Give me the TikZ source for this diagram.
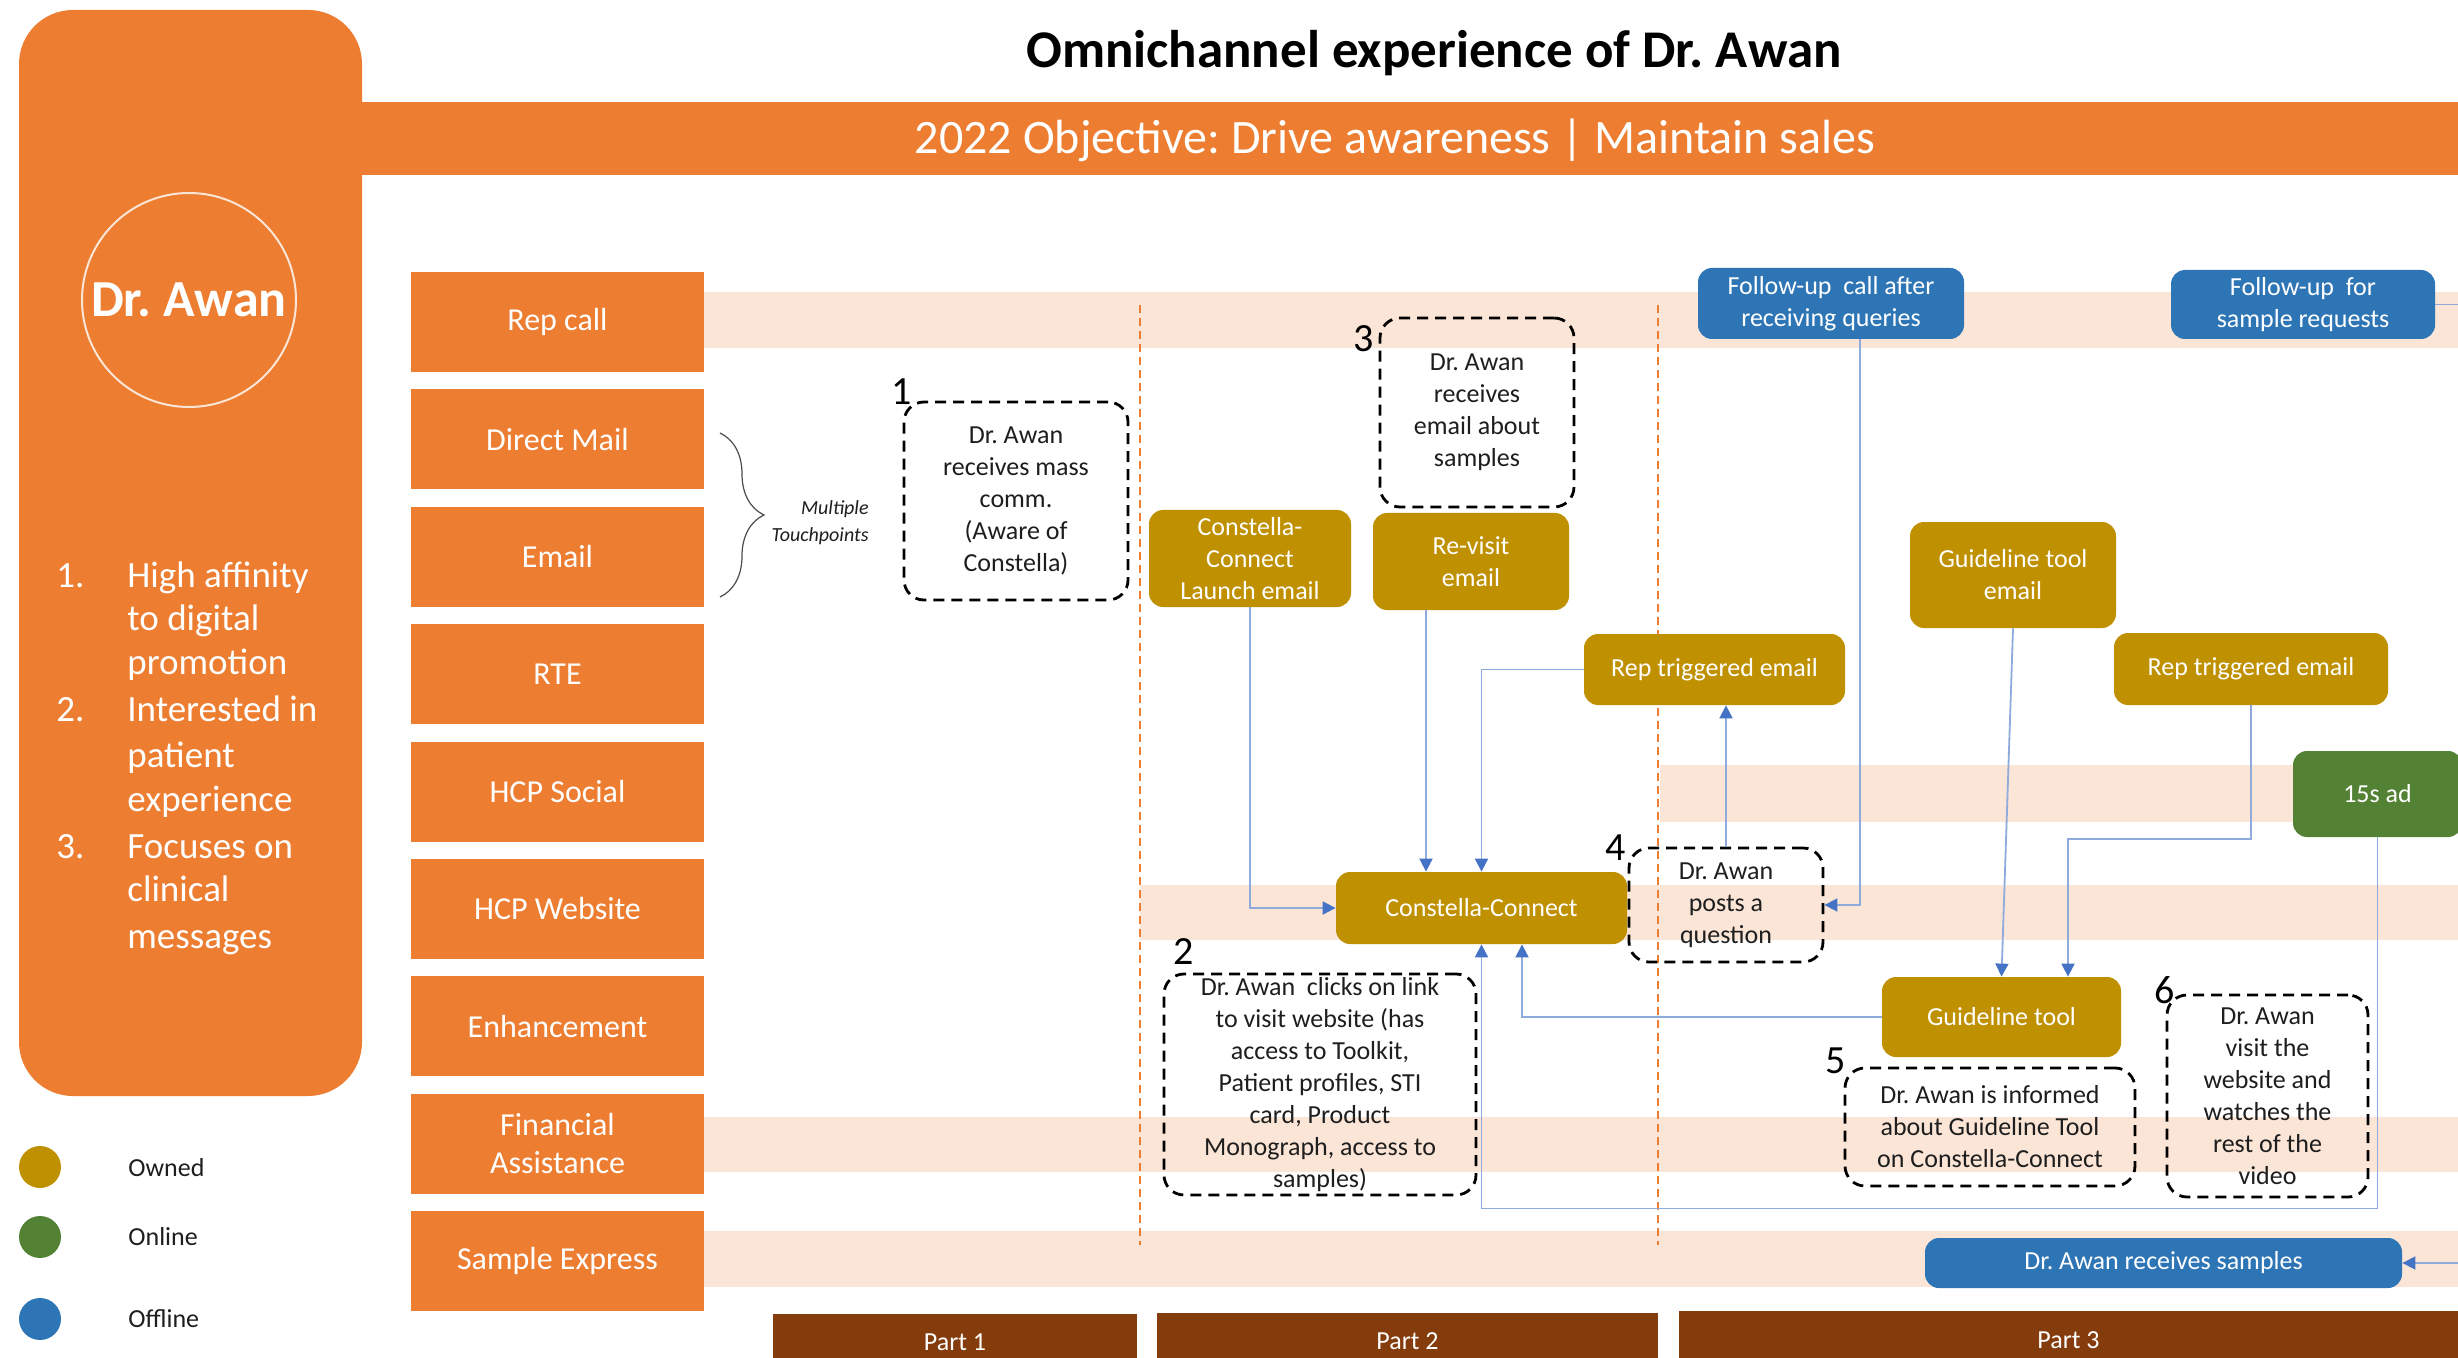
\documentclass[tikz,border=0pt]{standalone}
\usepackage{fontspec}
\setmainfont{Carlito}
\usetikzlibrary{arrows.meta,calc,decorations.pathreplacing}
\definecolor{orng}{RGB}{237,125,49}
\definecolor{band}{RGB}{251,229,214}
\definecolor{gold}{RGB}{191,144,0}
\definecolor{grn}{RGB}{84,130,53}
\definecolor{blu}{RGB}{46,117,182}
\definecolor{brn}{RGB}{132,60,12}
\definecolor{connc}{RGB}{143,170,220}
\definecolor{arrc}{RGB}{68,114,196}
\definecolor{txtgray}{RGB}{30,30,30}
\frenchspacing
\begin{document}
\begin{tikzpicture}[x=0.5pt,y=-0.5pt,
  rowbox/.style={fill=orng, text=white, minimum width=146.5pt, minimum height=50pt, inner sep=0pt, align=center, font=\fontsize{16}{19}\selectfont},
  flowbox/.style={rounded corners=7pt, inner sep=0pt, align=center, text=white, font=\fontsize{13}{16}\selectfont},
  goldbox/.style={flowbox, fill=gold},
  bluebox/.style={flowbox, fill=blu},
  greenbox/.style={flowbox, fill=grn},
  note/.style={draw=black, line width=1.4pt, dash pattern=on 5.5pt off 3.5pt, rounded corners=10pt, inner sep=0pt, align=center, text=txtgray, font=\fontsize{13}{16}\selectfont},
  num/.style={anchor=base, inner sep=0pt, text=black, font=\fontsize{20}{20}\selectfont},
  conn/.style={draw=connc, line width=0.9pt, -{Triangle[length=6.5pt,width=6.5pt,color=arrc]}},
  divider/.style={draw=orng, line width=0.7pt, dash pattern=on 4pt off 2.5pt},
  partbar/.style={fill=brn, text=white, inner sep=0pt, font=\fontsize{13}{16}\selectfont},
  listtxt/.style={anchor=base west, inner sep=0pt, text=white, font=\fontsize{18.5}{22}\selectfont},
  legtxt/.style={anchor=west, inner sep=0pt, text=txtgray, font=\fontsize{13}{16}\selectfont},
  legdot/.style={circle, minimum size=21pt, inner sep=0pt},
]
\useasboundingbox (0,0) rectangle (2458,1358);
\clip (0,0) rectangle (2458,1358);
\fill[white] (0,0) rectangle (2458,1358);

% left panel and header
\fill[orng, rounded corners=27pt] (19,10) rectangle (362,1096);
\fill[orng] (362,102) rectangle (2458,175);
\node[font=\bfseries\fontsize{26.5}{30}\selectfont, text=black] (title) at (1434,53) {Omnichannel experience of Dr. Awan};
\node[font=\fontsize{24}{28}\selectfont, text=white] (objective) at (1395,140) {2022 Objective: Drive awareness | Maintain sales};

\node[circle, draw=band, line width=1pt, minimum size=107pt, inner sep=0pt, text=white, font=\bfseries\fontsize{26}{30}\selectfont] (persona) at (189,300) {Dr. Awan};

\node[listtxt] (n1) at (56,587) {1.};
\node[listtxt] (n2) at (56,721) {2.};
\node[listtxt] (n3) at (56,858) {3.};
\node[listtxt] (t1) at (127,587) {High affinity};
\node[listtxt] (t2) at (127,630) {to digital};
\node[listtxt] (t3) at (127,674) {promotion};
\node[listtxt] (t4) at (127,721) {Interested in};
\node[listtxt] (t5) at (127,767) {patient};
\node[listtxt] (t6) at (127,811) {experience};
\node[listtxt] (t7) at (127,858) {Focuses on};
\node[listtxt] (t8) at (127,901) {clinical};
\node[listtxt] (t9) at (127,948) {messages};

% legend
\node[legdot, fill=gold] (lg1) at (40,1167) {};
\node[legdot, fill=grn] (lg2) at (40,1237) {};
\node[legdot, fill=blu] (lg3) at (40,1319) {};
\node[legtxt] (lt1) at (128,1168) {Owned};
\node[legtxt] (lt2) at (128,1237) {Online};
\node[legtxt] (lt3) at (128,1319) {Offline};

% swim-lane bands
\fill[band] (704,292) rectangle (2458,348);
\fill[band] (1660,765) rectangle (2458,822);
\fill[band] (1140,885) rectangle (2458,940);
\fill[band] (704,1117) rectangle (2458,1172);
\fill[band] (704,1231) rectangle (2458,1287);

% row labels
\node[rowbox] (r1) at (557.5,322) {Rep call};
\node[rowbox] (r2) at (557.5,439.4) {Direct Mail};
\node[rowbox] (r3) at (557.5,556.8) {Email};
\node[rowbox] (r4) at (557.5,674.2) {RTE};
\node[rowbox] (r5) at (557.5,791.6) {HCP Social};
\node[rowbox] (r6) at (557.5,909) {HCP Website};
\node[rowbox] (r7) at (557.5,1026.4) {Enhancement};
\node[rowbox] (r8) at (557.5,1143.8) {Financial\\Assistance};
\node[rowbox] (r9) at (557.5,1261.2) {Sample Express};

% brace
\draw[draw=black!70, line width=0.6pt, decorate, decoration={brace, amplitude=22pt}] (720,433) -- (720,597);
\node[anchor=east, align=right, inner sep=0pt, text=txtgray, font=\itshape\fontsize{10}{13.5}\selectfont] (mt) at (869,523) {Multiple\\Touchpoints};

% part dividers
\draw[divider] (1140,305) -- (1140,1245);
\draw[divider] (1658,305) -- (1658,1245);

% part bars
\node[partbar, minimum width=182pt, minimum height=28pt] (p1) at (955,1342) {Part 1};
\node[partbar, minimum width=250.5pt, minimum height=28.5pt] (p2) at (1407.5,1341.5) {Part 2};
\node[partbar, minimum width=389.5pt, minimum height=29.5pt] (p3) at (2068.5,1340.5) {Part 3};

% notes
\node[note, minimum width=112pt, minimum height=99pt] (b1) at (1016,501) {Dr. Awan\\receives mass\\comm.\\(Aware of\\Constella)};
\node[num] (k1) at (902,405) {1};
\node[note, minimum width=97pt, minimum height=94.5pt] (b3) at (1477,412.5) {Dr. Awan\\receives\\email about\\samples};
\node[num] (k3) at (1364,352) {3};
\node[note, minimum width=156pt, minimum height=110.5pt] (b2) at (1320,1084.5) {Dr. Awan\ \ clicks on link\\to visit website (has\\access to Toolkit,\\Patient profiles, STI\\card, Product\\Monograph, access to\\samples)};
\node[num] (k2) at (1184,964) {2};
\node[note, minimum width=97pt, minimum height=57pt] (b4) at (1726,905) {Dr. Awan\\posts a\\question};
\node[num] (k4) at (1616,860) {4};
\node[note, minimum width=145pt, minimum height=59pt] (b5) at (1990,1127) {Dr. Awan is informed\\about Guideline Tool\\on Constella-Connect};
\node[num] (k5) at (1836,1073) {5};
\node[note, minimum width=100.5pt, minimum height=101pt] (b6) at (2267.5,1096) {Dr. Awan\\visit the\\website and\\watches the\\rest of the\\video};
\node[num] (k6) at (2165,1003) {6};

% channel boxes
\node[goldbox, minimum width=101pt, minimum height=48.5pt] (L) at (1250,558.5) {Constella-\\Connect\\Launch email};
\node[goldbox, minimum width=98pt, minimum height=48.5pt] (RV) at (1471,561.5) {Re-visit\\email};
\node[goldbox, minimum width=130.5pt, minimum height=35.5pt] (RT1) at (1714.5,669.5) {Rep triggered email};
\node[goldbox, minimum width=103pt, minimum height=53pt] (GTE) at (2013,575) {Guideline tool\\email};
\node[goldbox, minimum width=137pt, minimum height=36pt] (RT2) at (2251,669) {Rep triggered email};
\node[greenbox, minimum width=84.5pt, minimum height=43pt] (AD) at (2377.5,794) {15s ad};
\node[goldbox, minimum width=145.5pt, minimum height=36pt] (CC) at (1481.5,908) {Constella-Connect};
\node[goldbox, minimum width=119.5pt, minimum height=40pt] (GT) at (2001.5,1017) {Guideline tool};
\node[bluebox, minimum width=133pt, minimum height=35.5pt] (FQ) at (1831,303.5) {Follow-up\ \ call after\\receiving queries};
\node[bluebox, minimum width=132pt, minimum height=34.5pt] (FS) at (2303,304.5) {Follow-up\ \ for\\sample requests};
\node[bluebox, minimum width=238.5pt, minimum height=25pt] (RS) at (2163.5,1263) {Dr. Awan receives samples};

% connectors
\coordinate (rvx) at (1426,0);
\coordinate (fqx) at (1860,0);
\coordinate (gtx) at (1522,0);
\coordinate (g2) at (2068,839);
\coordinate (offr) at (2495,0);
\draw[conn] (L.south) |- (CC.west);
\draw[conn] (RV.south -| rvx) -- (CC.north -| rvx);
\draw[conn] (RT1.west) -| (CC.north);
\draw[conn] (b4.north) -- (b4.north |- RT1.south);
\draw[conn] (FQ.south -| fqx) |- (b4.east);
\draw[conn] (GTE.south) -- (GT.north);
\draw[conn] (RT2.south) |- (g2) -- (g2 |- GT.north);
\draw[conn] (GT.west) -| (CC.south -| gtx);
\draw[conn] (AD.south) |- ($(CC.south)+(0,264)$) -- (CC.south);
\draw[conn] (FS.east) -- (FS.east -| offr) -- (RS.east -| offr) -- (RS.east);
\end{tikzpicture}
\end{document}
